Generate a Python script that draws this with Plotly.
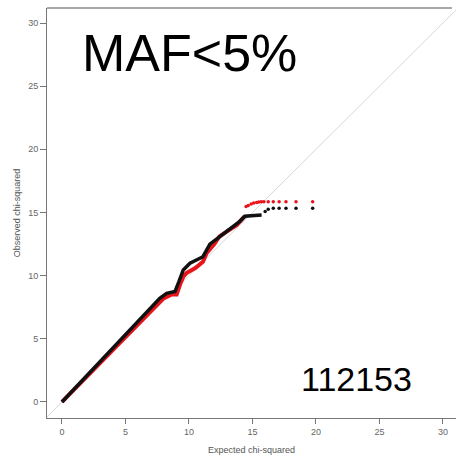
import plotly.graph_objects as go

# Red series (dense part, then sparse tail)
red_x = [0, 1, 2, 3, 4, 5, 6, 7, 8, 8.6, 9.03, 9.3, 9.55, 9.8, 10.5, 11.1, 11.4, 12.0, 12.4, 13.0, 13.75, 14.2, 14.4]
red_y = [0, 1.02, 2.05, 3.08, 4.1, 5.15, 6.2, 7.2, 8.2, 8.5, 8.5, 9.3, 9.92, 10.2, 10.6, 11.1, 11.8, 12.5, 13.1, 13.5, 14.0, 14.5, 14.7]
red_tail_x = [14.5, 14.67, 14.9, 15.1, 15.33, 15.5, 15.7, 15.9, 16.24, 16.64, 17.1, 17.64, 18.43, 19.74]
red_tail_y = [15.47, 15.55, 15.67, 15.75, 15.8, 15.83, 15.86, 15.86, 15.86, 15.86, 15.86, 15.86, 15.86, 15.86]

# Black series
blk_x = [0, 1, 2, 3, 4, 5, 6, 7, 7.7, 8.24, 8.9, 9.2, 9.55, 10.08, 10.6, 11.1, 11.65, 12.3, 12.97, 13.5, 14.0, 14.4, 15.0, 15.72]
blk_y = [0, 1.07, 2.15, 3.22, 4.3, 5.37, 6.45, 7.5, 8.2, 8.6, 8.75, 9.5, 10.45, 10.98, 11.24, 11.5, 12.5, 13.0, 13.5, 13.9, 14.3, 14.7, 14.75, 14.8]
blk_tail_x = [16.0, 16.24, 16.64, 17.1, 17.64, 18.43, 19.74]
blk_tail_y = [15.07, 15.26, 15.33, 15.33, 15.33, 15.33, 15.33]

ticks = [0, 5, 10, 15, 20, 25, 30]
diag = [-5, 40]

fig = go.Figure()
fig.add_trace(go.Scatter(x=diag, y=diag, mode="lines", line=dict(color="#d8d8d8", width=1), hoverinfo="skip"))
fig.add_trace(go.Scatter(x=red_x, y=red_y, mode="lines", line=dict(color="#e8141c", width=4)))
fig.add_trace(go.Scatter(x=red_tail_x, y=red_tail_y, mode="markers", marker=dict(color="#e8141c", size=3.5)))
fig.add_trace(go.Scatter(x=blk_x, y=blk_y, mode="lines", line=dict(color="#111111", width=3.5)))
fig.add_trace(go.Scatter(x=blk_tail_x, y=blk_tail_y, mode="markers", marker=dict(color="#111111", size=3.5)))

axis_font = dict(family="Liberation Sans, Arial", size=9, color="#666666")
fig.update_layout(
    width=456, height=457,
    margin=dict(l=47, r=0, t=8, b=39),
    plot_bgcolor="white", paper_bgcolor="white",
    showlegend=False,
    xaxis=dict(range=[-1.18, 31.03], tickvals=ticks, ticks="outside", ticklen=5, tickcolor="#777777",
               showline=True, linecolor="#777777", linewidth=1, mirror=False, showgrid=False, zeroline=False,
               tickfont=axis_font,
               title=dict(text="Expected chi-squared", font=dict(family="Liberation Sans, Arial", size=9, color="#555555"), standoff=10)),
    yaxis=dict(range=[-1.27, 31.19], tickvals=ticks, ticks="outside", ticklen=6, tickcolor="#777777",
               showline=True, linecolor="#777777", linewidth=1, mirror=False, showgrid=False, zeroline=False,
               tickfont=axis_font,
               title=dict(text="Observed chi-squared", font=dict(family="Liberation Sans, Arial", size=9, color="#555555"), standoff=6)),
    shapes=[dict(type="line", xref="paper", yref="paper", x0=0, x1=0.99, y0=1, y1=1,
                 line=dict(color="#888888", width=1.5))],
    annotations=[
        dict(x=1.4, y=27.6, xref="x", yref="y", text="MAF<5%", showarrow=False, xanchor="left", yanchor="middle",
             font=dict(family="Liberation Sans, Arial", size=52, color="black")),
        dict(x=18.7, y=1.85, xref="x", yref="y", text="112153", showarrow=False, xanchor="left", yanchor="middle",
             font=dict(family="Liberation Sans, Arial", size=34, color="black")),
    ],
)
fig.write_html("out.html")
